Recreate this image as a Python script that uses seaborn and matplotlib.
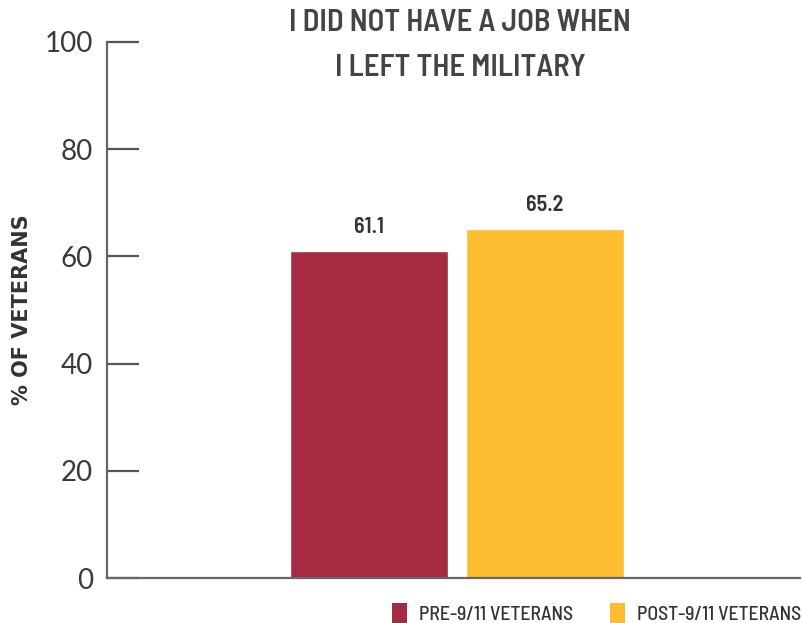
import matplotlib
matplotlib.use("Agg")
import matplotlib.pyplot as plt
from matplotlib.patches import Patch
import seaborn as sns
import pandas as pd

groups = ["PRE-9/11 VETERANS", "POST-9/11 VETERANS"]
values = [61.1, 65.2]
colors = ["#A62B42", "#FDBD30"]
y_ticks = [0, 20, 40, 60, 80, 100]
title = "I DID NOT HAVE A JOB WHEN\nI LEFT THE MILITARY"
y_label = "% OF VETERANS"

sns.set_theme(style="white")
narrow = ["Barlow Semi Condensed", "Roboto Condensed", "PT Sans Narrow",
          "Archivo Narrow", "DejaVu Sans"]
tick_font = ["Lato", "DejaVu Sans"]
label_font = ["DejaVu Sans"]
plt.rcParams["font.family"] = narrow

df = pd.DataFrame({"group": groups, "value": values})

fig = plt.figure(figsize=(8.02, 6.23), dpi=100)
ax = fig.add_axes([0.1334, 0.0722, 0.8641, 0.8604])

sns.barplot(data=df, x="group", y="value", hue="group", palette=colors,
            width=0.898, saturation=1, legend=False, ax=ax)

ax.set_ylim(0, 100)
ax.set_xlim(-1.489, 2.449)
ax.set_yticks(y_ticks)
ax.set_yticklabels([str(t) for t in y_ticks])
for lbl in ax.get_yticklabels():
    lbl.set_fontfamily(tick_font)
    lbl.set_fontsize(20)
    lbl.set_color("#3a3a3a")
ax.set_xticks([])
ax.set_xlabel("")
ax.set_ylabel(y_label, fontsize=15, fontweight="bold", color="#333333",
              family=label_font)
ax.yaxis.set_label_coords(-0.108, 0.5)

for s in ["top", "right"]:
    ax.spines[s].set_visible(False)
for s in ["left", "bottom"]:
    ax.spines[s].set_color("#666666")
    ax.spines[s].set_linewidth(1.6)
ax.tick_params(axis="y", left=True, direction="in", length=23, width=1.6,
               color="#555555", pad=10, labelcolor="#3a3a3a")

for patch, v in zip(ax.patches, values):
    ax.text(patch.get_x() + patch.get_width() / 2, v + 2.5, f"{v}",
            ha="center", va="bottom", fontsize=16, fontweight="semibold",
            color="#333333")

fig.text(0.574, 0.985, title, ha="center", va="top", fontsize=22,
         fontweight="semibold", color="#444444", linespacing=1.75)

handles = [Patch(facecolor=c, edgecolor="none") for c in colors]
leg = fig.legend(handles, groups, loc="lower right", bbox_to_anchor=(1.021, -0.03),
                 ncol=2, frameon=False, handlelength=0.75, handleheight=1.25,
                 handletextpad=0.6, columnspacing=1.9,
                 prop={"family": narrow, "size": 14.2, "weight": "medium"})
for t in leg.get_texts():
    t.set_color("#333333")

fig.savefig("out.png", dpi=100)
